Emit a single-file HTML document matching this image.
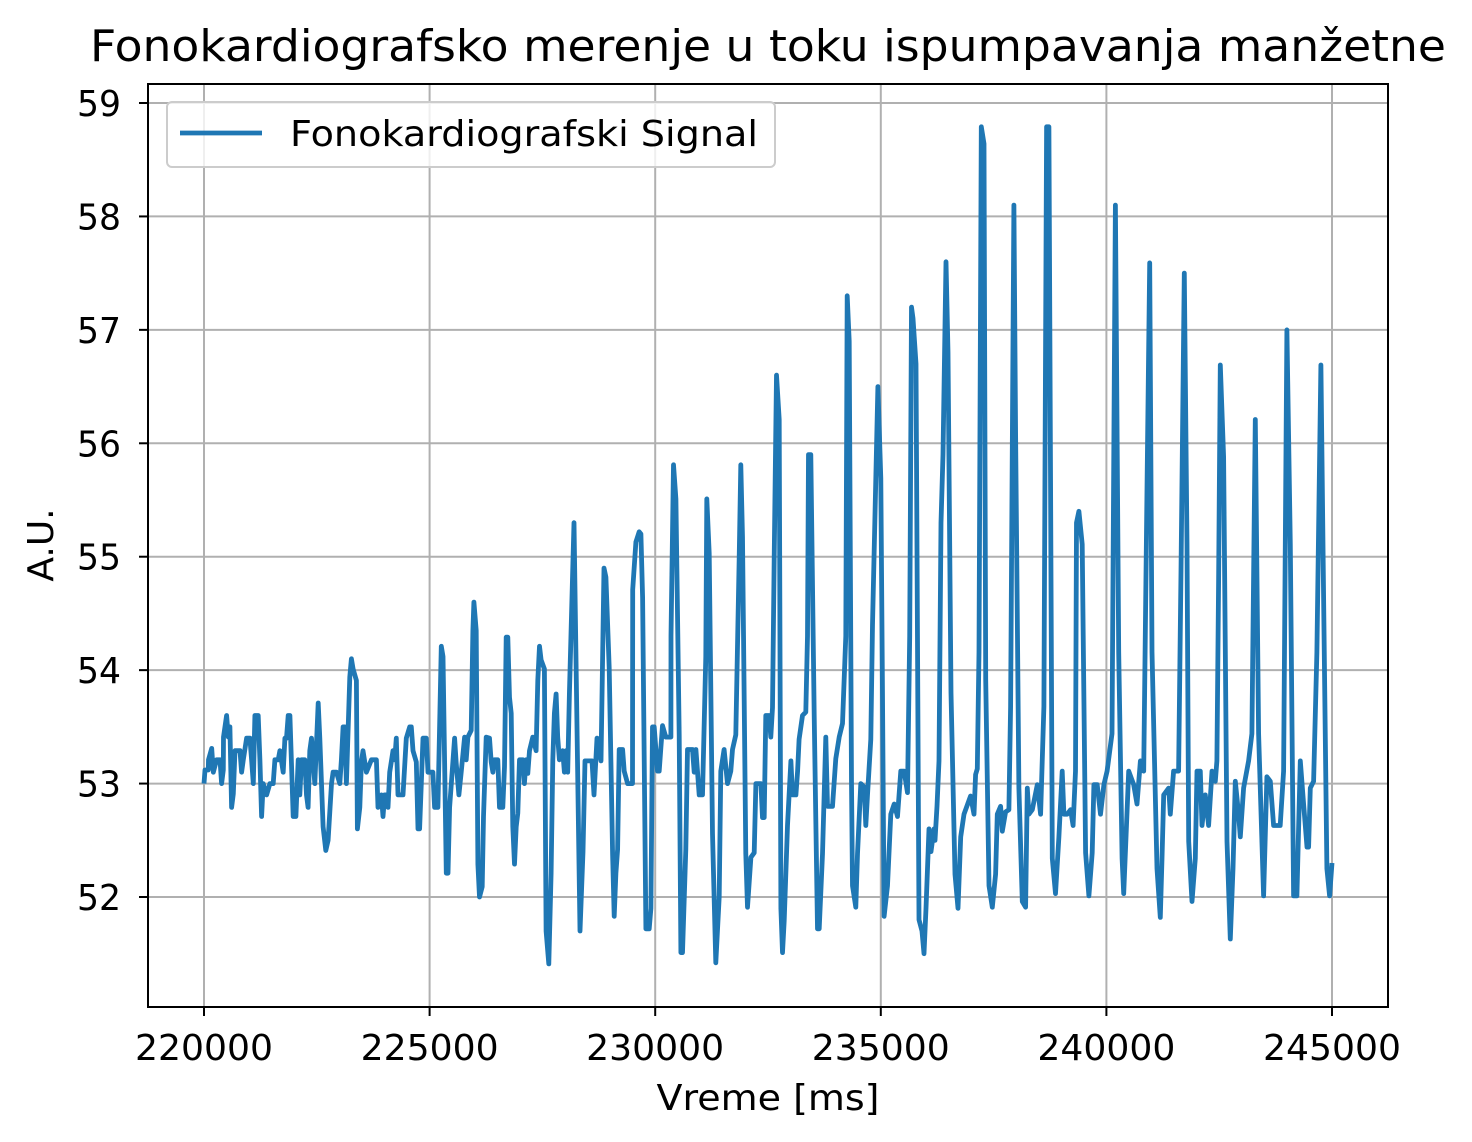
<!DOCTYPE html>
<html><head><meta charset="utf-8">
<style>
html,body{margin:0;padding:0;background:#fff;}
svg{display:block;font-family:"DejaVu Sans","Liberation Sans",sans-serif;}
</style></head>
<body>
<svg id="chart" width="1472" height="1142" viewBox="0 0 1472 1142" xmlns="http://www.w3.org/2000/svg">
<rect x="0" y="0" width="1472" height="1142" fill="#fff"/>
<text x="768" y="61" font-size="44" text-anchor="middle" textLength="1356" lengthAdjust="spacingAndGlyphs" fill="#000">Fonokardiografsko merenje u toku ispumpavanja manžetne</text>
<g id="grid"></g>
<g id="ticks"></g>
<path id="series" fill="none" stroke="#1f77b4" stroke-width="4.8" stroke-linejoin="round"/>
<rect x="148" y="84" width="1240" height="923" fill="none" stroke="#000" stroke-width="2"/>
<g>
<rect x="167" y="102" width="608" height="65" rx="5" fill="#fff" fill-opacity="0.8" stroke="#ccc" stroke-width="2"/>
<line x1="180" y1="133" x2="262" y2="133" stroke="#1f77b4" stroke-width="4.8"/>
<text x="290" y="146" font-size="36" textLength="468" lengthAdjust="spacingAndGlyphs" fill="#000">Fonokardiografski Signal</text>
</g>
<text x="768" y="1110" font-size="36" text-anchor="middle" textLength="223" lengthAdjust="spacingAndGlyphs" fill="#000">Vreme [ms]</text>
<text transform="translate(53,545) rotate(-90)" font-size="36" text-anchor="middle" fill="#000">A.U.</text>
</svg>
<script>
const xTicks=[220000,225000,230000,235000,240000,245000];
const yTicks=[52,53,54,55,56,57,58,59];
const times=[220000,220022,220096,220100,220170,220206,220280,220354,220391,220428,220432,220501,220538,220575,220612,220649,220686,220797,220833,220870,220944,221018,221055,221092,221128,221202,221239,221276,221313,221387,221460,221534,221571,221645,221682,221756,221792,221829,221866,221903,221977,222036,222087,222124,222161,222235,222272,222308,222345,222382,222456,222530,222567,222640,222699,222751,222825,222862,222935,223009,223046,223083,223120,223157,223231,223267,223304,223378,223400,223452,223488,223525,223599,223710,223820,223857,223931,223968,224005,224042,224078,224115,224189,224226,224263,224300,224410,224484,224558,224595,224632,224706,224742,224779,224853,224927,224964,225074,225111,225185,225222,225259,225296,225370,225407,225444,225555,225590,225649,225701,225775,225812,225849,225922,225959,225981,226033,226070,226107,226166,226195,226254,226328,226365,226402,226439,226512,226549,226623,226660,226697,226734,226771,226808,226845,226882,226919,226955,226992,227065,227102,227139,227176,227213,227287,227361,227398,227435,227471,227545,227582,227641,227693,227730,227766,227803,227840,227877,227951,227988,228024,228061,228098,228200,228333,228400,228444,228599,228644,228710,228799,228865,228907,228981,229055,229092,229129,229166,229203,229277,229314,229388,229498,229502,229572,229646,229683,229720,229793,229867,229904,229941,229978,230052,230089,230126,230162,230236,230347,230350,230406,230458,230532,230569,230606,230679,230716,230827,230864,230901,230975,231048,231122,231144,231196,231270,231344,231418,231455,231528,231602,231676,231713,231787,231861,231898,231935,232009,232046,232120,232194,232231,232342,232379,232416,232452,232526,232563,232600,232637,232689,232748,232785,232822,232859,232933,233007,233044,233118,233155,233190,233264,233338,233375,233397,233449,233523,233597,233634,233707,233781,233818,233929,234003,234077,234151,234225,234255,234300,234350,234372,234446,234483,234557,234631,234668,234705,234779,234816,234935,235000,235037,235074,235148,235222,235296,235370,235443,235517,235591,235640,235680,235714,235780,235847,235913,235957,236002,236068,236113,236179,236201,236246,236290,236335,236379,236445,236489,236556,236645,236711,236770,236844,236991,237065,237102,237139,237176,237228,237287,237324,237398,237471,237545,237582,237656,237693,237766,237840,237877,237951,237988,238061,238135,238209,238246,238283,238357,238468,238541,238615,238674,238726,238800,238873,238947,239021,239058,239132,239206,239263,239316,239338,239390,239464,239538,239612,239685,239723,239796,239870,239944,240015,240125,240199,240273,240347,240384,240494,240605,240679,240753,240826,240900,240959,241010,241121,241195,241232,241269,241380,241417,241490,241601,241653,241727,241786,241823,241897,241970,242008,242081,242118,242192,242266,242340,242413,242450,242487,242524,242598,242672,242746,242805,242856,242930,242967,243041,243152,243225,243299,243373,243484,243558,243632,243705,243853,243927,244001,244075,244149,244223,244297,244371,244445,244482,244519,244592,244666,244755,244814,244888,244947,245000];
const values=[53.0,53.12,53.12,53.21,53.31,53.1,53.21,53.21,53.0,53.12,53.41,53.6,53.41,53.5,52.79,52.91,53.29,53.29,53.1,53.21,53.4,53.4,53.21,53.0,53.6,53.6,53.21,52.71,53.0,52.9,53.0,53.0,53.21,53.21,53.29,53.1,53.4,53.4,53.6,53.6,52.71,52.71,53.21,52.9,53.21,53.21,52.9,52.79,53.29,53.4,53.0,53.71,53.4,52.62,52.41,52.5,53.0,53.1,53.1,53.0,53.21,53.5,53.5,53.0,53.94,54.1,54.01,53.91,52.6,52.79,53.19,53.29,53.1,53.21,53.21,52.79,52.9,52.71,52.9,52.9,52.79,53.1,53.29,53.21,53.4,52.9,52.9,53.4,53.5,53.5,53.29,53.19,52.6,52.6,53.4,53.4,53.1,53.1,52.79,52.79,53.5,54.21,54.12,52.21,52.21,52.79,53.4,53.18,52.9,53.1,53.41,53.21,53.41,53.47,54.35,54.6,54.35,52.29,52.0,52.09,52.71,53.41,53.4,53.19,53.1,53.21,53.21,52.79,52.79,53.15,54.29,54.29,53.76,53.62,52.62,52.29,52.62,52.74,53.21,53.21,53.0,53.21,53.09,53.29,53.41,53.29,53.91,54.21,54.09,54.01,51.7,51.41,52.21,53.21,53.62,53.79,53.41,53.21,53.29,53.1,53.29,53.1,53.79,55.3,51.7,52.4,53.2,53.2,52.9,53.4,53.2,54.9,54.82,54.02,52.38,51.83,52.21,52.42,53.3,53.3,53.11,53.0,53.0,54.71,55.13,55.22,55.2,54.64,51.72,51.72,51.9,53.5,53.5,53.11,53.11,53.32,53.51,53.41,53.41,54.3,55.81,55.51,53.43,51.51,51.51,52.42,53.3,53.3,53.1,53.3,52.9,52.9,54.12,55.51,55.03,52.56,51.42,52.0,53.11,53.3,53.0,53.11,53.3,53.43,54.99,55.81,55.17,52.38,51.91,52.35,52.39,53.0,53.0,52.7,52.7,53.6,53.6,53.41,53.67,54.99,56.6,56.21,51.9,51.51,51.79,52.63,53.2,52.9,52.9,53.11,53.39,53.6,53.63,54.3,55.9,55.9,53.6,51.72,51.72,52.38,53.41,52.8,52.8,53.22,53.41,53.53,54.3,57.3,56.9,53.0,52.1,51.91,52.38,53.0,52.97,52.63,52.9,53.39,54.4,56.5,55.69,53.77,51.83,52.1,52.73,52.82,52.71,53.11,53.11,52.92,54.3,57.2,57.1,56.7,51.8,51.7,51.5,51.9,52.6,52.4,52.6,52.5,52.8,53.2,55.3,55.9,57.6,56.8,53.8,52.2,51.9,52.53,52.73,52.89,52.73,53.08,53.13,54.16,58.79,58.64,53.92,52.1,51.91,52.2,52.73,52.8,52.58,52.75,52.77,53.68,58.1,56.07,52.96,51.96,51.91,52.96,52.73,52.77,52.99,52.73,53.68,58.79,58.79,52.34,52.03,52.53,53.11,52.73,52.73,52.77,52.63,53.11,55.3,55.4,55.11,52.39,52.01,52.39,52.99,52.99,52.73,52.99,53.11,53.44,58.1,54.16,52.34,52.03,53.11,52.99,52.82,53.2,53.11,55.59,57.59,54.16,52.25,51.82,52.34,52.9,52.96,52.73,53.11,53.11,54.87,57.5,55.11,52.49,51.96,52.34,53.11,53.11,52.63,52.9,52.63,53.11,53.02,53.2,54.78,56.69,55.88,52.49,51.63,52.25,53.02,52.73,52.53,52.96,53.2,53.44,56.21,53.44,52.01,53.06,53.02,52.63,52.63,53.11,57.0,55.11,52.01,52.01,53.2,52.82,52.44,52.44,52.96,53.02,54.16,56.69,54.64,52.25,52.01,52.3];

const X0=204,X1=1332,T0=220000,T1=245000;
const Y0=897,Y1=103,V0=52,V1=59;
function xs(t){return X0+(t-T0)*(X1-X0)/(T1-T0);}
function ys(v){return Y0+(v-V0)*(Y1-Y0)/(V1-V0);}
const NS="http://www.w3.org/2000/svg";
const grid=document.getElementById('grid'), ticks=document.getElementById('ticks');
function mk(tag,attrs,parent){const e=document.createElementNS(NS,tag);for(const k in attrs)e.setAttribute(k,attrs[k]);parent.appendChild(e);return e;}
xTicks.forEach(t=>{
  const x=xs(t);
  const g=mk('line',{x1:x,y1:84,x2:x,y2:1007,stroke:'#b0b0b0','stroke-width':2},grid);
  
  
  const tk=mk('line',{x1:x,y1:1007,x2:x,y2:1016,stroke:'#000','stroke-width':2},ticks);
  
  
  const tx=mk('text',{x:x,y:1060,'font-size':36,'text-anchor':'middle',textLength:138,lengthAdjust:'spacingAndGlyphs',fill:'#000'},ticks);
  tx.textContent=String(t);
  
  
});
yTicks.forEach(v=>{
  const y=ys(v);
  const g=mk('line',{x1:148,y1:y,x2:1388,y2:y,stroke:'#b0b0b0','stroke-width':2},grid);
  
  
  const tk=mk('line',{x1:139,y1:y,x2:148,y2:y,stroke:'#000','stroke-width':2},ticks);
  
  
  const tx=mk('text',{x:121,y:y+13,'font-size':36,'text-anchor':'end',textLength:44,lengthAdjust:'spacingAndGlyphs',fill:'#000'},ticks);
  tx.textContent=String(v);
  
  
});
let d='';
times.forEach((t,i)=>{d+=(i?'L':'M')+xs(t).toFixed(1)+','+ys(values[i]).toFixed(1);});
document.getElementById('series').setAttribute('d',d);
</script>
</body></html>
